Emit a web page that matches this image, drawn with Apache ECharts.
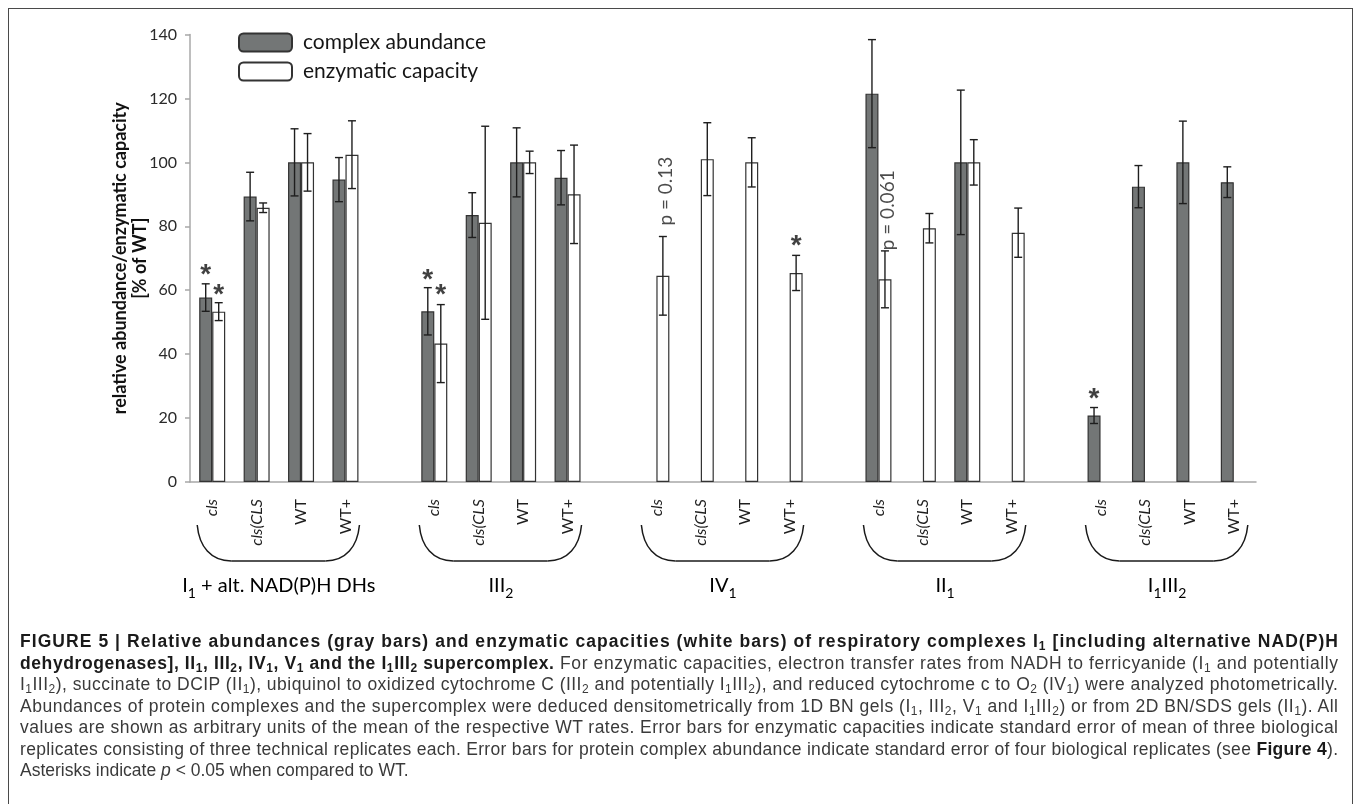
<!DOCTYPE html>
<html><head><meta charset="utf-8">
<script src="https://cdn.jsdelivr.net/npm/echarts@6/dist/echarts.min.js"></script>
<style>
html,body{margin:0;padding:0;background:#fff;}
#wrap{position:relative;width:1358px;height:804px;overflow:hidden;background:#fff;}
#chart{position:absolute;left:0;top:0;width:1358px;height:804px;}
#frame{position:absolute;left:8px;top:8px;width:1345px;height:830px;border:1.5px solid #4a4a4a;box-sizing:border-box;pointer-events:none;}
#cap{position:absolute;left:20px;top:631px;width:1318px;font-family:'Liberation Sans',Arial,sans-serif;font-size:17.5px;color:#3a3a3a;line-height:21.5px;}
#cap .ln{white-space:nowrap;height:21.5px;}
#cap .ln span{display:inline-block;}
#cap b{color:#1a1a1a;}
#cap sub{font-size:12px;vertical-align:-3px;line-height:0;}
</style></head>
<body><div id="wrap">
<div id="chart"></div>
<div id="frame"></div>
<div id="cap">
<div class="ln"><span class="t"><b>FIGURE 5 | Relative abundances (gray bars) and enzymatic capacities (white bars) of respiratory complexes I<sub>1</sub> [including alternative NAD(P)H</b></span></div>
<div class="ln"><span class="t"><b>dehydrogenases], II<sub>1</sub>, III<sub>2</sub>, IV<sub>1</sub>, V<sub>1</sub> and the I<sub>1</sub>III<sub>2</sub> supercomplex.</b> For enzymatic capacities, electron transfer rates from NADH to ferricyanide (I<sub>1</sub> and potentially</span></div>
<div class="ln"><span class="t">I<sub>1</sub>III<sub>2</sub>), succinate to DCIP (II<sub>1</sub>), ubiquinol to oxidized cytochrome C (III<sub>2</sub> and potentially I<sub>1</sub>III<sub>2</sub>), and reduced cytochrome c to O<sub>2</sub> (IV<sub>1</sub>) were analyzed photometrically.</span></div>
<div class="ln"><span class="t">Abundances of protein complexes and the supercomplex were deduced densitometrically from 1D BN gels (I<sub>1</sub>, III<sub>2</sub>, V<sub>1</sub> and I<sub>1</sub>III<sub>2</sub>) or from 2D BN/SDS gels (II<sub>1</sub>). All</span></div>
<div class="ln"><span class="t">values are shown as arbitrary units of the mean of the respective WT rates. Error bars for enzymatic capacities indicate standard error of mean of three biological</span></div>
<div class="ln"><span class="t">replicates consisting of three technical replicates each. Error bars for protein complex abundance indicate standard error of four biological replicates (see <b>Figure 4</b>).</span></div>
<div class="ln"><span class="last">Asterisks indicate <i>p</i> &lt; 0.05 when compared to WT.</span></div>
</div>
</div>
<script>
// ---------------- DATA ----------------
const groupNames = ['I_1 + alt. NAD(P)H DHs', 'III_2', 'IV_1', 'II_1', 'I_1III_2'];
const lineNames = ['cls', 'cls(CLS', 'WT', 'WT+'];
const abundance    = [[57.7, 89.3, 100, 94.6], [53.4, 83.5, 100, 95.2], [null, null, null, null], [121.5, null, 100, null], [20.8, 92.4, 100, 93.8]];
const abundanceErr = [[4.3, 7.6, 10.5, 6.9], [7.4, 7.0, 10.8, 8.5], [null, null, null, null], [16.9, null, 22.6, null], [2.5, 6.6, 12.9, 4.8]];
const capacity     = [[53.3, 85.8, 100, 102.4], [43.3, 81.1, 100, 90.0], [64.5, 101.0, 100, 65.4], [63.4, 79.4, 100, 78.0], [null, null, null, null]];
const capacityErr  = [[2.8, 1.5, 9.0, 10.6], [12.2, 30.2, 3.5, 15.4], [12.3, 11.4, 7.7, 5.5], [8.9, 4.6, 7.1, 7.7], [null, null, null, null]];
const yMin = 0, yMax = 140, yInterval = 20;
// significance asterisks: group, line, series (0 = abundance, 1 = capacity), height
const starGroup  = [0, 0, 1, 1, 2, 4];
const starLine   = [0, 0, 0, 0, 3, 0];
const starSeries = [0, 1, 0, 1, 1, 0];
const starY      = [66.3, 60.1, 64.8, 59.9, 75.2, 27.5];
// p-value notes
const pTexts = ['p = 0.13', 'p = 0.061'];
const pGroup = [2, 3];
const pLine  = [0, 0];
const pY     = [91, 85];
const seriesNames = ['complex abundance', 'enzymatic capacity'];

// ---------------- BUILD ----------------
const GAP = 1; // blank categories between groups
const perGroup = lineNames.length + GAP;
const catIndex = (g, l) => g * perGroup + l;
const categories = [];
const abFlat = [], capFlat = [], abErrData = [], capErrData = [];
groupNames.forEach((g, gi) => {
  lineNames.forEach((l, li) => {
    const idx = categories.length;
    categories.push(l);
    abFlat.push(abundance[gi][li]);
    capFlat.push(capacity[gi][li]);
    if (abundance[gi][li] != null) abErrData.push([idx, abundance[gi][li], abundanceErr[gi][li]]);
    if (capacity[gi][li] != null) capErrData.push([idx, capacity[gi][li], capacityErr[gi][li]]);
  });
  if (gi < groupNames.length - 1) for (let k = 0; k < GAP; k++) { categories.push(''); abFlat.push(null); capFlat.push(null); }
});

const BAR_W = 13;
const OFF = [-BAR_W / 2, BAR_W / 2];
const CAP = 4;
const FONT = 'Lato, "Open Sans", sans-serif';
const errStyle = { stroke: '#1e1e1e', lineWidth: 1.4 };

function errRender(offset) {
  return function (params, api) {
    const idx = api.value(0), v = api.value(1), e = api.value(2);
    const t = api.coord([idx, v + e]);
    const b = api.coord([idx, v - e]);
    const x = t[0] + offset;
    return { type: 'group', children: [
      { type: 'line', shape: { x1: x, y1: t[1], x2: x, y2: b[1] }, style: errStyle },
      { type: 'line', shape: { x1: x - CAP, y1: t[1], x2: x + CAP, y2: t[1] }, style: errStyle },
      { type: 'line', shape: { x1: x - CAP, y1: b[1], x2: x + CAP, y2: b[1] }, style: errStyle }
    ]};
  };
}

const starData = starGroup.map((g, i) => ({
  value: [catIndex(g, starLine[i]), starY[i]],
  label: { offset: [OFF[starSeries[i]], 5] }
}));
const pData = pTexts.map((t, i) => ({
  value: [catIndex(pGroup[i], pLine[i]), pY[i]],
  name: t
}));

function richGroup(s) {
  const parts = s.split(/_(\d)/);
  let out = '';
  parts.forEach((p, i) => { if (p !== '') out += '{' + (i % 2 ? 's' : 'n') + '|' + p + '}'; });
  return out;
}

const chart = echarts.init(document.getElementById('chart'), null, { renderer: 'canvas' });
const option = {
  animation: false,
  backgroundColor: 'transparent',
  textStyle: { fontFamily: FONT },
  grid: { left: 190, right: 102, top: 34.5, bottom: 322, containLabel: false },
  legend: {
    data: seriesNames,
    orient: 'vertical',
    left: 233, top: 27,
    itemWidth: 53, itemHeight: 18, itemGap: 8,
    icon: 'roundRect',
    textStyle: { fontFamily: FONT, fontSize: 21, color: '#151515', padding: [0, 0, 0, 6] },
    selectedMode: false
  },
  xAxis: {
    type: 'category',
    data: categories,
    boundaryGap: true,
    axisLine: { lineStyle: { color: '#a8a8a8', width: 1.5 } },
    axisTick: { show: false },
    axisLabel: {
      interval: 0, rotate: 90, margin: 17,
      formatter: v => v === '' ? '' : (v.indexOf('cls') === 0 ? '{i|' + v + '}' : '{n|' + v + '}'),
      rich: {
        i: { fontStyle: 'italic', fontFamily: FONT, fontSize: 16, color: '#1e1e1e' },
        n: { fontFamily: FONT, fontSize: 16, color: '#1e1e1e' }
      }
    }
  },
  yAxis: {
    type: 'value', min: yMin, max: yMax, interval: yInterval,
    name: 'relative abundance/enzymatic capacity\n[% of WT]',
    nameLocation: 'middle', nameRotate: 90, nameGap: 40, nameMoveOverlap: false,
    nameTextStyle: { fontFamily: FONT, fontWeight: 'bold', fontSize: 18, lineHeight: 20, color: '#111', align: 'center' },
    splitLine: { show: false },
    axisLine: { show: true, lineStyle: { color: '#a8a8a8', width: 1.5 } },
    axisTick: { show: true, inside: false, length: 5, lineStyle: { color: '#a8a8a8', width: 1.5 } },
    axisLabel: { fontFamily: FONT, fontSize: 16, color: '#2a2a2a', margin: 13 }
  },
  series: [
    { name: seriesNames[0], type: 'bar', data: abFlat, barWidth: BAR_W, barGap: '0%',
      itemStyle: { color: '#737676', borderColor: '#333', borderWidth: 1.2 }, z: 2 },
    { name: seriesNames[1], type: 'bar', data: capFlat, barWidth: BAR_W, barGap: '0%',
      itemStyle: { color: '#ffffff', borderColor: '#333', borderWidth: 1.2 }, z: 2 },
    { type: 'custom', renderItem: errRender(OFF[0]), data: abErrData, encode: { x: 0, y: 1 }, z: 4, silent: true },
    { type: 'custom', renderItem: errRender(OFF[1]), data: capErrData, encode: { x: 0, y: 1 }, z: 4, silent: true },
    { type: 'scatter', data: starData, symbolSize: 0, z: 5, silent: true,
      label: { show: true, position: 'inside', formatter: '*', fontFamily: 'Liberation Sans, Arial, sans-serif', fontWeight: 'bold', fontSize: 28, color: '#111' } },
    { type: 'scatter', data: pData, symbolSize: 0, z: 5, silent: true,
      label: { show: true, position: 'inside', rotate: 90, formatter: p => p.name, offset: [0, OFF[1] + 3], fontFamily: FONT, fontSize: 19, color: '#1e1e1e' } }
  ]
};
chart.setOption(option);

// braces and group labels placed via the axis scale
const y0 = chart.convertToPixel({ yAxisIndex: 0 }, yMin);
const BR_TOP = 43, BR_BOT = 79, BR_EXT_L = 15, BR_EXT_R = 14, BR_R = 34, LBL_Y = 106;
const graphics = [];
groupNames.forEach((g, gi) => {
  const xs = chart.convertToPixel({ xAxisIndex: 0 }, catIndex(gi, 0));
  const xe = chart.convertToPixel({ xAxisIndex: 0 }, catIndex(gi, lineNames.length - 1));
  const L = xs - BR_EXT_L, R = xe + BR_EXT_R, T = y0 + BR_TOP, B = y0 + BR_BOT, h = B - T;
  const st = { stroke: '#1a1a1a', lineWidth: 1.5, fill: null };
  graphics.push({ type: 'bezierCurve', shape: { x1: L, y1: T, x2: L + BR_R, y2: B, cpx1: L + 2, cpy1: T + h * 0.6, cpx2: L + BR_R * 0.4, cpy2: B }, style: st, silent: true });
  graphics.push({ type: 'line', shape: { x1: L + BR_R, y1: B, x2: R - BR_R, y2: B }, style: st, silent: true });
  graphics.push({ type: 'bezierCurve', shape: { x1: R - BR_R, y1: B, x2: R, y2: T, cpx1: R - BR_R * 0.4, cpy1: B, cpx2: R - 2, cpy2: T + h * 0.6 }, style: st, silent: true });
  graphics.push({ type: 'text', x: (xs + xe) / 2, y: y0 + LBL_Y, silent: true,
    style: { text: richGroup(g), align: 'center', verticalAlign: 'middle',
      rich: {
        n: { fontFamily: FONT, fontSize: 20, color: '#111', verticalAlign: 'bottom', padding: [0, 0, 4, 0] },
        s: { fontFamily: FONT, fontSize: 14, color: '#111', verticalAlign: 'bottom' }
      } } });
});
chart.setOption({ graphic: graphics });

// fit caption lines to the column width
const W = 1318;
document.querySelectorAll('#cap .ln span.t').forEach(sp => {
  const w = sp.getBoundingClientRect().width;
  const n = sp.textContent.length;
  if (n > 1) sp.style.letterSpacing = ((W - w) / (n - 1)) + 'px';
});
</script>
</body></html>
